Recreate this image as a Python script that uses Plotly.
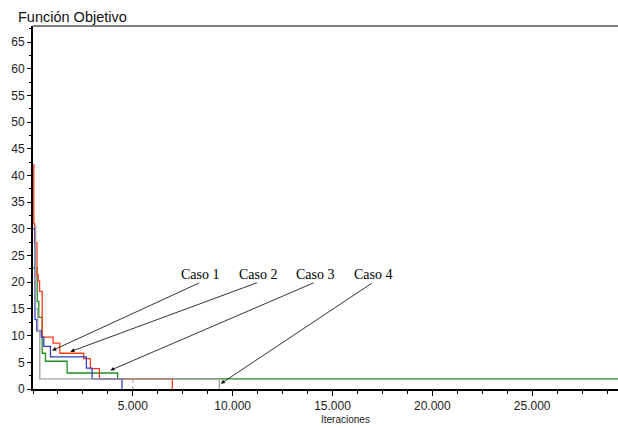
import plotly.graph_objects as go

# ---- data ----
green_x = [0, 210, 290, 460, 625, 1710, 4240, 29300]
green_y = [22.7, 16.4, 13.4, 6.7, 5.2, 3.0, 1.9, 1.9]

red_x = [0, 40, 80, 200, 260, 330, 460, 1010, 1340, 2540, 2875, 3325, 6980]
red_y = [42, 31, 27.4, 21.4, 20.2, 18.3, 9.7, 8.6, 6.7, 5.7, 3.8, 1.9, 0]

blue_x = [0, 100, 190, 410, 540, 875, 2675, 2960, 4460]
blue_y = [30, 13, 10.9, 9.7, 8.0, 6.0, 3.9, 1.9, 0]

grey_x = [0, 130, 240, 340, 9330]
grey_y = [30.5, 15, 11, 1.9, 0]

mark_x = [5000, 5000]
mark_y = [0, 1.9]

case_labels = ["Caso 1", "Caso 2", "Caso 3", "Caso 4"]
head_x = [960, 1875, 3875, 9410]
head_y = [7.2, 7.0, 3.5, 1.0]
tail_x = [8400, 11290, 14125, 17040]
tail_y = [20.0, 20.0, 20.0, 20.0]
label_y = 21.5

x_ticks = [5000, 10000, 15000, 20000, 25000]
y_ticks = list(range(0, 70, 5))

fig = go.Figure()
series = [
    (green_x, green_y, "#1f8f1f"),
    (red_x, red_y, "#ff3a1a"),
    (blue_x, blue_y, "#3040c8"),
    (grey_x, grey_y, "#a0a0a0"),
]
for xs, ys, col in series:
    fig.add_trace(go.Scatter(x=xs, y=ys, mode="lines",
                             line=dict(color=col, width=1.3, shape="hv"),
                             hoverinfo="skip", showlegend=False))
fig.add_trace(go.Scatter(x=mark_x, y=mark_y, mode="lines",
                         line=dict(color="#a0a0a0", width=1, dash="dot"),
                         hoverinfo="skip", showlegend=False))

annotations = []
for lab, hx, hy, tx, ty in zip(case_labels, head_x, head_y, tail_x, tail_y):
    annotations.append(dict(x=hx, y=hy, ax=tx, ay=ty, xref="x", yref="y",
                            axref="x", ayref="y", text="", showarrow=True,
                            arrowhead=2, arrowsize=1, arrowwidth=0.8,
                            arrowcolor="black"))
    annotations.append(dict(x=tx, y=label_y, xref="x", yref="y", text=lab,
                            showarrow=False, xanchor="center", yanchor="middle",
                            font=dict(family="Liberation Sans", size=10, color="black")
                            if False else
                            dict(family="Liberation Serif", size=14, color="black")))

annotations.append(dict(x=(345 - 33) / 585, y=-(420 - 389.5) / 363.5,
                        xref="paper", yref="paper", text="Iteraciones",
                        showarrow=False, xanchor="center", yanchor="middle",
                        font=dict(family="Liberation Sans", size=10, color="#222")))

fig.update_layout(
    width=618, height=428, autosize=False,
    margin=dict(l=33, r=0, t=26, b=38.5, pad=0),
    paper_bgcolor="white", plot_bgcolor="white",
    separators=",.",
    title=dict(text="Función Objetivo", x=18 / 618, xanchor="left",
               y=1 - 17 / 428, yanchor="middle",
               font=dict(family="Liberation Sans", size=14.5, color="#111")),
    xaxis=dict(range=[0, 29300], showgrid=False, zeroline=False,
               showline=True, linewidth=2, linecolor="black",
               ticks="outside", ticklen=5, tickwidth=1, tickcolor="black",
               tickmode="array", tickvals=x_ticks, tickformat=",d",
               tickfont=dict(family="Liberation Sans", size=12, color="#222"),
               minor=dict(tickmode="linear", tick0=0, dtick=1250, ticks="outside",
                          ticklen=3, tickcolor="black", showgrid=False)),
    yaxis=dict(range=[0, 68], showgrid=False, zeroline=False,
               showline=True, linewidth=2, linecolor="black",
               ticks="outside", ticklen=4, tickwidth=1, tickcolor="black",
               tickmode="array", tickvals=y_ticks,
               tickfont=dict(family="Liberation Sans", size=12, color="#222"),
               minor=dict(tickmode="linear", tick0=0, dtick=2.5, ticks="outside",
                          ticklen=2, tickcolor="black", showgrid=False)),
    annotations=annotations,
    shapes=[dict(type="line", xref="paper", yref="paper", x0=0, x1=1, y0=1, y1=1,
                 line=dict(color="black", width=1))],
)

fig.write_html("out.html")
